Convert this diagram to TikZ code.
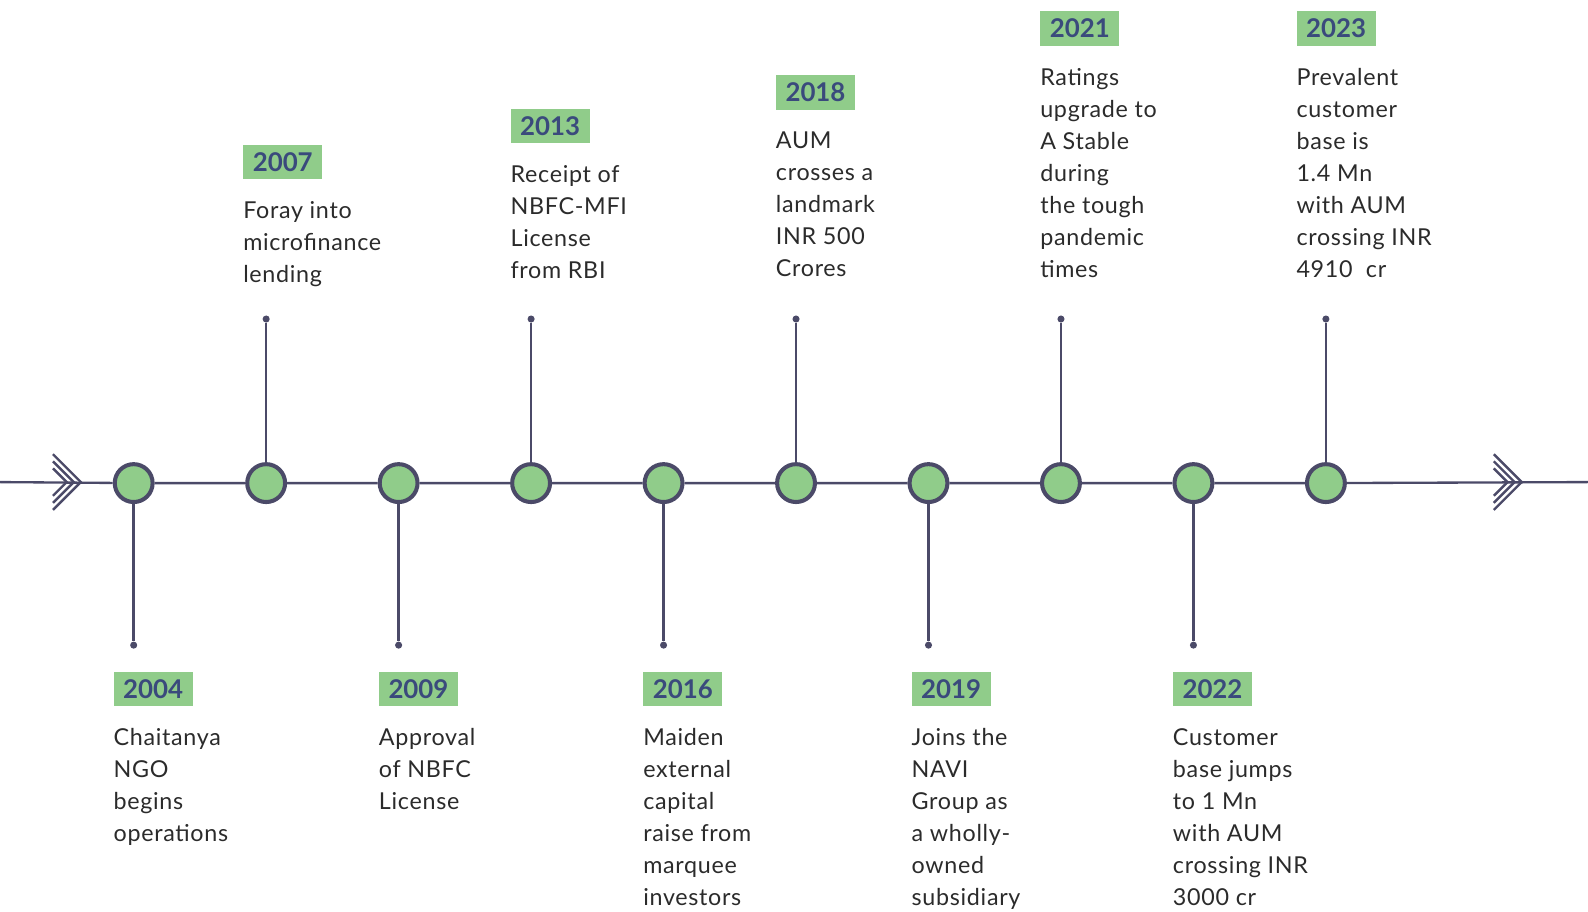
\documentclass[tikz,border=0pt]{standalone}
\usepackage{fontspec}
\setmainfont{Lato}
\newfontfamily\descfont[LetterSpace=3]{Lato}
\definecolor{lg}{HTML}{90CC8A}
\definecolor{ln}{HTML}{4B4A68}
\definecolor{yr}{HTML}{3A4A7C}
\definecolor{tx}{HTML}{2B2B2B}
\begin{document}
\begin{tikzpicture}[x=1pt,y=-1pt,
  ev/.style={circle, draw=ln, line width=4pt, fill=lg, minimum size=37.4pt, inner sep=0pt},
  pin/.style={circle, fill=ln, minimum size=7pt, inner sep=0pt},
  yearbox/.style={anchor=north west, fill=lg, minimum width=78pt, minimum height=34pt, inner sep=0pt, text=yr, font=\fontsize{25.5}{30}\selectfont\bfseries},
  desc/.style={anchor=base west, inner sep=0pt, text=tx, font=\descfont\fontsize{23}{31.6}\selectfont},
  stem/.style={draw=ln, line width=2.4pt},
  chev/.style={draw=ln, line width=2.4pt},
  mainline/.style={draw=ln, line width=2.3pt}
]
\useasboundingbox (0,0) rectangle (1568,900.5);

% main line end points
\coordinate (L) at (0,476);
\coordinate (R) at (1568,476);

% event circles
\node[ev] (c1) at (132,477) {};
\node[ev] (c2) at (262.8,477) {};
\node[ev] (c3) at (393.6,477) {};
\node[ev] (c4) at (524.4,477) {};
\node[ev] (c5) at (655.2,477) {};
\node[ev] (c6) at (786,477) {};
\node[ev] (c7) at (916.8,477) {};
\node[ev] (c8) at (1047.6,477) {};
\node[ev] (c9) at (1178.4,477) {};
\node[ev] (c10) at (1309.2,477) {};

\draw[mainline] (L) -- (c1) -- (c2) -- (c3) -- (c4) -- (c5) -- (c6) -- (c7) -- (c8) -- (c9) -- (c10) -- (R);

% chevrons
\foreach \h in {27.5,20.5,13.5} {
  \draw[chev] (52.3,476-\h) -- (52.3+\h,476) -- (52.3,476+\h);
  \draw[chev] (1475,476-\h) -- (1475+\h,476) -- (1475,476+\h);
}

% pins
\node[pin] (p1) at (132,637) {};
\node[pin] (p2) at (262.8,315) {};
\node[pin] (p3) at (393.6,637) {};
\node[pin] (p4) at (524.4,315) {};
\node[pin] (p5) at (655.2,637) {};
\node[pin] (p6) at (786,315) {};
\node[pin] (p7) at (916.8,637) {};
\node[pin] (p8) at (1047.6,315) {};
\node[pin] (p9) at (1178.4,637) {};
\node[pin] (p10) at (1309.2,315) {};
\foreach \i in {1,...,10} { \draw[stem] (c\i) -- (p\i); }

% years
\node[yearbox] (y1) at (112,663) {2004};
\node[yearbox] (y2) at (240,143) {2007};
\node[yearbox] (y3) at (374,663) {2009};
\node[yearbox] (y4) at (504,107) {2013};
\node[yearbox] (y5) at (635,663) {2016};
\node[yearbox] (y6) at (766,74) {2018};
\node[yearbox] (y7) at (900,663) {2019};
\node[yearbox] (y8) at (1027,11) {2021};
\node[yearbox] (y9) at (1158,663) {2022};
\node[yearbox] (y10) at (1280,11) {2023};

% descriptions
\node[desc] (t1) at (112,736) {\parbox[t]{200pt}{\raggedright Chaitanya\\NGO\\begins\\operations}};
\node[desc] (t2) at (240,216) {\parbox[t]{200pt}{\raggedright Foray into\\microfinance\\lending}};
\node[desc] (t3) at (374,736) {\parbox[t]{200pt}{\raggedright Approval\\of NBFC\\License}};
\node[desc] (t4) at (504,180) {\parbox[t]{200pt}{\raggedright Receipt of\\NBFC-MFI\\License\\from RBI}};
\node[desc] (t5) at (635,736) {\parbox[t]{200pt}{\raggedright Maiden\\external\\capital\\raise from\\marquee\\investors}};
\node[desc] (t6) at (766,147) {\parbox[t]{200pt}{\raggedright AUM\\crosses a\\landmark\\INR 500\\Crores}};
\node[desc] (t7) at (900,736) {\parbox[t]{200pt}{\raggedright Joins the\\NAVI\\Group as\\a wholly-\\owned\\subsidiary}};
\node[desc] (t8) at (1027,84) {\parbox[t]{200pt}{\raggedright Ratings\\upgrade to\\A Stable\\during\\the tough\\pandemic\\times}};
\node[desc] (t9) at (1158,736) {\parbox[t]{200pt}{\raggedright Customer\\base jumps\\to 1 Mn\\with AUM\\crossing INR\\3000 cr}};
\node[desc] (t10) at (1280,84) {\parbox[t]{200pt}{\raggedright Prevalent\\customer\\base is\\1.4 Mn\\with AUM\\crossing INR\\4910\ \ cr}};
\end{tikzpicture}
\end{document}
